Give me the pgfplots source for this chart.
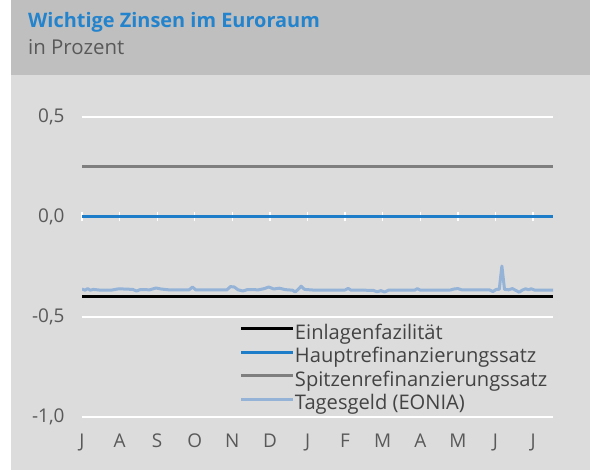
\documentclass[border=0pt]{standalone}
\usepackage{fontspec}
\setmainfont{Open Sans}
\usepackage{pgfplots}
\pgfplotsset{compat=1.18}

\definecolor{bandgray}{HTML}{BFBFBF}
\definecolor{panelgray}{HTML}{DCDCDC}
\definecolor{titleblue}{RGB}{35,131,204}
\definecolor{txtgray}{HTML}{595959}
\definecolor{mroblue}{RGB}{30,125,200}
\definecolor{mlfgray}{HTML}{7F7F7F}
\definecolor{eonia}{RGB}{149,179,215}

\begin{document}
\begin{tikzpicture}
% panel and header band
\fill[white] (0bp,0bp) rectangle (590bp,470bp);
\fill[panelgray] (11bp,0bp) rectangle (590bp,470bp);
\fill[bandgray] (11bp,395bp) rectangle (590bp,470bp);
\node[anchor=base west, inner sep=0, font=\fontsize{20}{24}\selectfont\bfseries, text=titleblue] at (28bp,442bp) {Wichtige Zinsen im Euroraum};
\node[anchor=base west, inner sep=0, font=\fontsize{20.5}{24}\selectfont, text=txtgray] at (28bp,415bp) {in Prozent};

% small white ticks on the zero line
\begin{axis}[
    at={(82bp,53bp)}, anchor=south west,
    scale only axis, width=471bp, height=300bp,
    xmin=0, xmax=12.53, ymin=-1, ymax=0.5,
    axis x line=middle, axis y line=none,
    axis line style={draw=none},
    xtick={0,...,12}, xticklabels={},
    major tick length=9bp,
    tick style={white, line width=1.3bp},
]
\addplot[draw=none] coordinates {(0,0) (12.53,0)};
\end{axis}

\begin{axis}[
    at={(82bp,53bp)}, anchor=south west,
    scale only axis, width=471bp, height=300bp,
    xmin=0, xmax=12.53, ymin=-1, ymax=0.5,
    axis line style={draw=none},
    xtick={0,...,12},
    xticklabels={J,A,S,O,N,D,J,F,M,A,M,J,J},
    ytick={-1,-0.5,0,0.5},
    yticklabels={{-1,0},{-0,5},{0,0},{0,5}},
    major tick length=0pt,
    ymajorgrids,
    major grid style={white, line width=1.4bp},
    tick label style={font=\fontsize{19}{22}\selectfont, text=txtgray},
    xticklabel style={anchor=north, yshift=-13bp},
    yticklabel style={anchor=east, xshift=-14bp},
    legend style={at={(0.335,0.31)}, anchor=north west, draw=none, fill=none,
        font=\fontsize{20.2}{23}\selectfont, text=txtgray!75!black,
        inner sep=0pt, row sep=3.5bp,
        nodes={inner sep=0pt, text height=15bp, text depth=5bp}},
    legend cell align=left,
    legend image code/.code={\draw[#1] (0bp,5.5bp) -- (52bp,5.5bp);},
]
\addplot[black, line width=3bp] coordinates {(0,-0.40) (12.53,-0.40)};
\addplot[mroblue, line width=3bp] coordinates {(0,0) (12.53,0)};
\addplot[mlfgray, line width=3bp] coordinates {(0,0.25) (12.53,0.25)};
\addplot[eonia, line width=3bp, line join=round] coordinates {
 (0.00,-0.360) (0.08,-0.366) (0.15,-0.358) (0.22,-0.366) (0.30,-0.362)
 (0.45,-0.365) (0.60,-0.366) (0.80,-0.365) (0.95,-0.360) (1.10,-0.360)
 (1.35,-0.362) (1.45,-0.370) (1.55,-0.363) (1.80,-0.364) (1.97,-0.355)
 (2.10,-0.360) (2.30,-0.364) (2.60,-0.364) (2.85,-0.364) (2.94,-0.350)
 (3.02,-0.364) (3.40,-0.365) (3.85,-0.365) (3.95,-0.348) (4.05,-0.350)
 (4.15,-0.364) (4.28,-0.370) (4.40,-0.363) (4.70,-0.364) (4.85,-0.358)
 (4.97,-0.350) (5.10,-0.360) (5.25,-0.356) (5.40,-0.363) (5.60,-0.366)
 (5.67,-0.375) (5.75,-0.362) (5.83,-0.346) (5.92,-0.362) (6.20,-0.366)
 (6.60,-0.366) (7.00,-0.365) (7.08,-0.357) (7.16,-0.366) (7.50,-0.366)
 (7.75,-0.367) (7.85,-0.374) (7.95,-0.368) (8.05,-0.375) (8.15,-0.366)
 (8.50,-0.366) (8.85,-0.366) (8.92,-0.358) (9.00,-0.366) (9.40,-0.366)
 (9.80,-0.365) (9.90,-0.360) (10.00,-0.358) (10.10,-0.364) (10.50,-0.365)
 (10.85,-0.365) (10.93,-0.373) (11.02,-0.362) (11.10,-0.362) (11.17,-0.245)
 (11.24,-0.362) (11.35,-0.364) (11.45,-0.358) (11.55,-0.368) (11.63,-0.376)
 (11.72,-0.365) (11.80,-0.359) (11.88,-0.364) (11.95,-0.359) (12.05,-0.366)
 (12.30,-0.366) (12.53,-0.366)
};
\legend{Einlagenfazilität,Hauptrefinanzierungssatz,Spitzenrefinanzierungssatz,Tagesgeld (EONIA)}
\end{axis}
\end{tikzpicture}
\end{document}
